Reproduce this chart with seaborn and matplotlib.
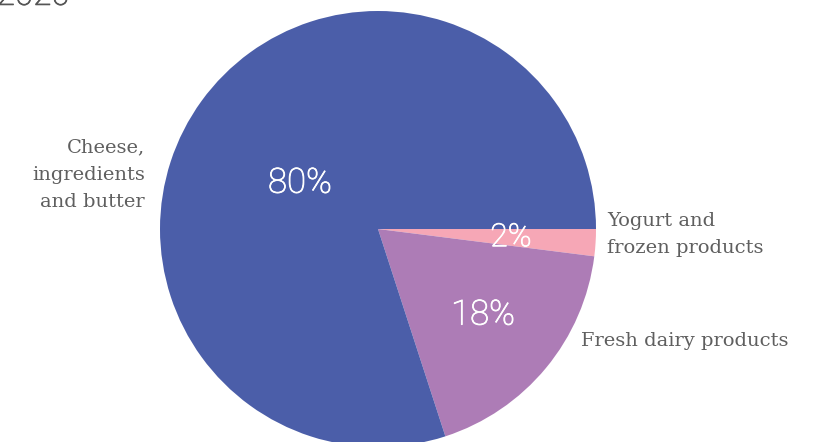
import matplotlib
matplotlib.use("Agg")
import matplotlib.pyplot as plt
import matplotlib.patheffects as pe
import seaborn as sns

# Data
categories = ["Yogurt and\nfrozen products", "Fresh dairy products", "Cheese,\ningredients\nand butter"]
values = [2, 18, 80]
colors = ["#f6a7b6", "#ad7cb6", "#4b5ea9"]
title_text = "2020"

sns.set_theme(style="white")
plt.rcParams["font.family"] = ["Roboto", "DejaVu Sans"]

fig = plt.figure(figsize=(8.23, 4.42), dpi=100)
ax = fig.add_axes([0, 0, 1, 1])

wedges, texts, autotexts = ax.pie(
    values, labels=categories, colors=colors, startangle=0, counterclock=False,
    autopct="%d%%", radius=1.0, center=(0, 0),
    wedgeprops=dict(linewidth=0),
)

label_pos = [(1.05, -0.025), (0.93, -0.514), (-1.07, 0.248)]
label_ha = ["left", "left", "right"]
for t, p, ha in zip(texts, label_pos, label_ha):
    t.set_position(p)
    t.set_ha(ha)
    t.set_va("center")
    t.set_fontfamily(["DejaVu Serif"])
    t.set_fontsize(14)
    t.set_color("#5f5f5f")
    t.set_linespacing(1.65)

pct_pos = [(0.61, -0.04), (0.482, -0.394), (-0.358, 0.211)]
for t, p in zip(autotexts, pct_pos):
    t.set_position(p)
    t.set_ha("center")
    t.set_va("center")
    t.set_color("white")
    t.set_fontsize(25)
    t.set_fontweight("light")
    t.set_path_effects([pe.withStroke(linewidth=0.6, foreground="white")])
autotexts[0].set_fontsize(23)

ax.set_xlim(-378 / 218, (823 - 378) / 218)
ax.set_ylim(-(442 - 229) / 218, 229 / 218)
ax.set_aspect("auto")
ax.axis("off")

fig.text(-0.004, 0.989, title_text, ha="left", va="baseline", fontsize=24,
         fontweight="light", color="#555555",
         path_effects=[pe.withStroke(linewidth=0.6, foreground="#555555")])

fig.savefig("out.png", dpi=100)
